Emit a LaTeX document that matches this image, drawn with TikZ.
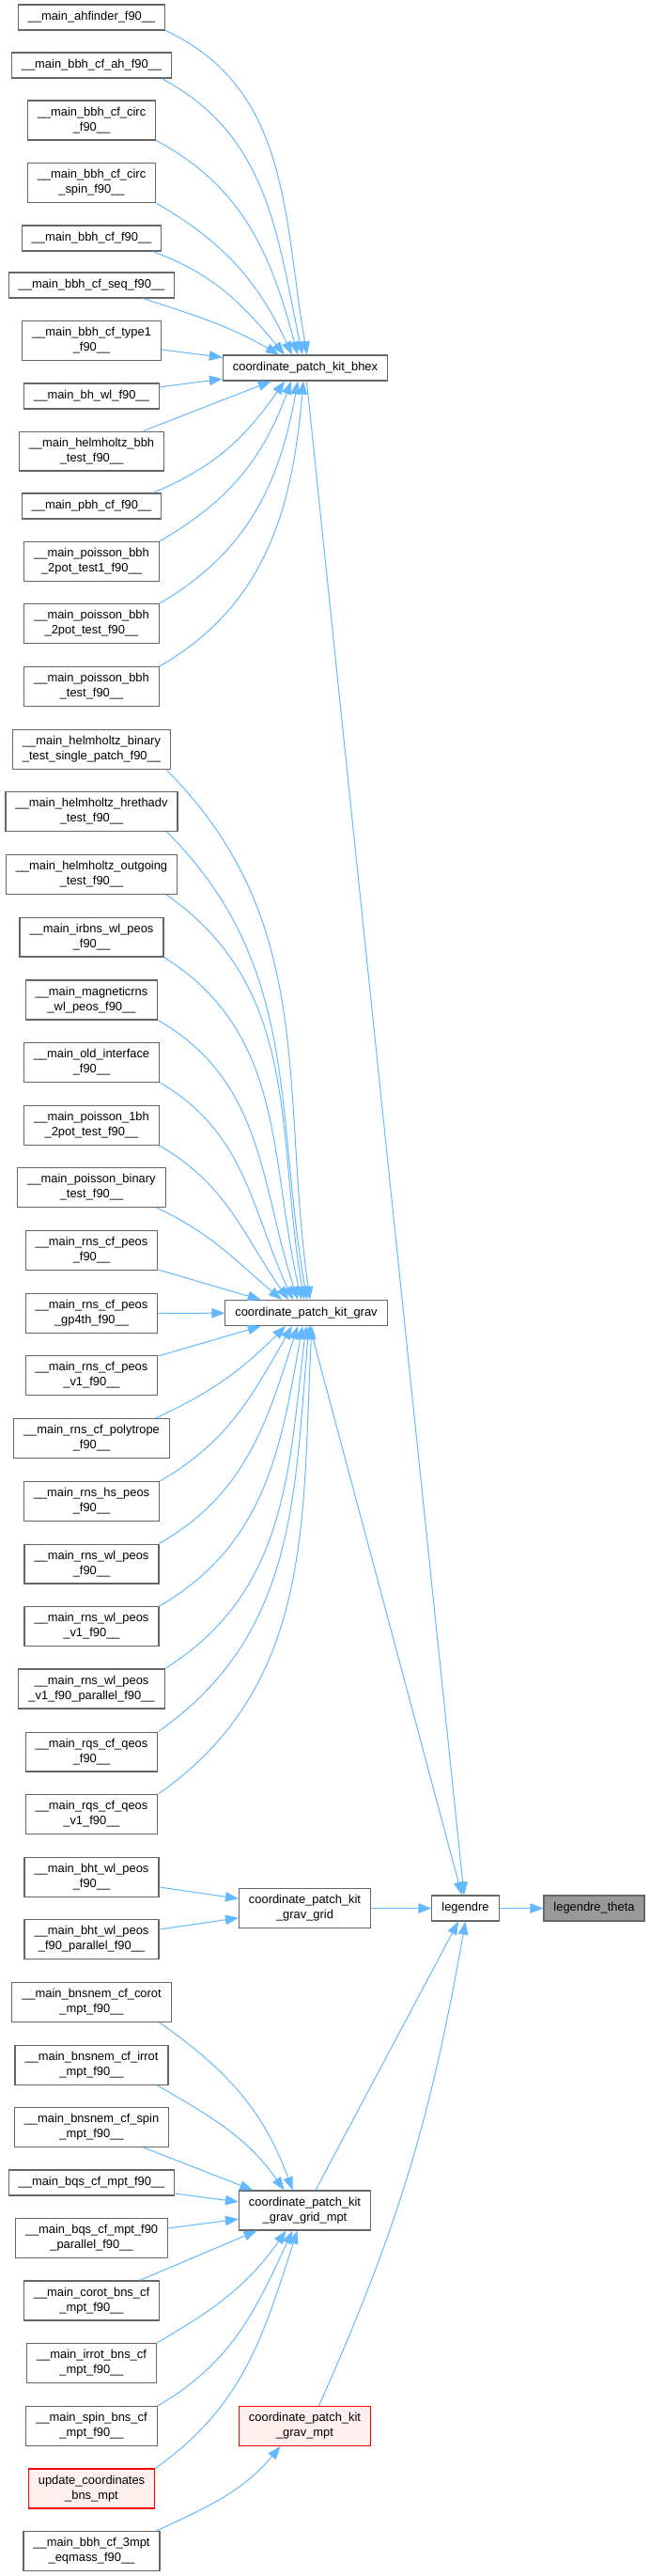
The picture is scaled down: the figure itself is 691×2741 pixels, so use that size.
\documentclass[tikz,border=0pt]{standalone}
\usepackage{fontspec}
\setmainfont{Liberation Sans}
\usetikzlibrary{arrows.meta}
\definecolor{edgeblue}{HTML}{63B8FF}
\definecolor{boxgray}{HTML}{666666}
\definecolor{hitgray}{HTML}{999999}
\definecolor{boxred}{HTML}{FF0000}
\definecolor{boxpink}{HTML}{FFF0F0}
\begin{document}
\begin{tikzpicture}[x=1pt, y=1pt,
	fn/.style={draw=boxgray, line width=1.1pt, fill=white, align=center,
		minimum height=27pt, inner xsep=10.5pt, inner ysep=7pt,
		font=\fontsize{12.9}{16}\selectfont},
	fnred/.style={fn, draw=boxred, fill=boxpink},
	fnhit/.style={fn, fill=hitgray},
	call/.style={draw=edgeblue, line width=1pt, -{Triangle[length=14pt,width=10.5pt]}}]
	\useasboundingbox (0,0) rectangle (691,-2741);
	% Callers, left column:
	\node[fn] (ahfinder) at (97.5,-18.5) {\_\_main\_ahfinder\_f90\_\_};
	\node[fn] (bbhcfah) at (97.5,-69.5) {\_\_main\_bbh\_cf\_ah\_f90\_\_};
	\node[fn] (circ) at (97.5,-128) {\_\_main\_bbh\_cf\_circ\\\_f90\_\_};
	\node[fn] (circspin) at (97.5,-194.5) {\_\_main\_bbh\_cf\_circ\\\_spin\_f90\_\_};
	\node[fn] (bbhcf) at (97.5,-253.5) {\_\_main\_bbh\_cf\_f90\_\_};
	\node[fn] (bbhseq) at (97.5,-303.5) {\_\_main\_bbh\_cf\_seq\_f90\_\_};
	\node[fn] (type1) at (97.5,-362.5) {\_\_main\_bbh\_cf\_type1\\\_f90\_\_};
	\node[fn] (bhwl) at (97.5,-421.5) {\_\_main\_bh\_wl\_f90\_\_};
	\node[fn] (helmbbh) at (97.5,-480) {\_\_main\_helmholtz\_bbh\\\_test\_f90\_\_};
	\node[fn] (pbhcf) at (97.5,-538.5) {\_\_main\_pbh\_cf\_f90\_\_};
	\node[fn] (pbbhone) at (97.5,-597.5) {\_\_main\_poisson\_bbh\\\_2pot\_test1\_f90\_\_};
	\node[fn] (pbbhtwo) at (97.5,-663.5) {\_\_main\_poisson\_bbh\\\_2pot\_test\_f90\_\_};
	\node[fn] (pbbh) at (97.5,-730.5) {\_\_main\_poisson\_bbh\\\_test\_f90\_\_};
	\node[fn] (helmbin) at (97.5,-797.5) {\_\_main\_helmholtz\_binary\\\_test\_single\_patch\_f90\_\_};
	\node[fn] (hrethadv) at (97.5,-863.5) {\_\_main\_helmholtz\_hrethadv\\\_test\_f90\_\_};
	\node[fn] (outgoing) at (97.5,-930.5) {\_\_main\_helmholtz\_outgoing\\\_test\_f90\_\_};
	\node[fn] (irbns) at (97.5,-997) {\_\_main\_irbns\_wl\_peos\\\_f90\_\_};
	\node[fn] (magrns) at (97.5,-1064) {\_\_main\_magneticrns\\\_wl\_peos\_f90\_\_};
	\node[fn] (oldint) at (97.5,-1130.5) {\_\_main\_old\_interface\\\_f90\_\_};
	\node[fn] (ponebh) at (97.5,-1197.5) {\_\_main\_poisson\_1bh\\\_2pot\_test\_f90\_\_};
	\node[fn] (pbinary) at (97.5,-1263.5) {\_\_main\_poisson\_binary\\\_test\_f90\_\_};
	\node[fn] (rnscf) at (97.5,-1330.5) {\_\_main\_rns\_cf\_peos\\\_f90\_\_};
	\node[fn] (rnsgp) at (97.5,-1397.5) {\_\_main\_rns\_cf\_peos\\\_gp4th\_f90\_\_};
	\node[fn] (rnsvone) at (97.5,-1463.5) {\_\_main\_rns\_cf\_peos\\\_v1\_f90\_\_};
	\node[fn] (polytrope) at (97.5,-1530.5) {\_\_main\_rns\_cf\_polytrope\\\_f90\_\_};
	\node[fn] (rnshs) at (97.5,-1597.5) {\_\_main\_rns\_hs\_peos\\\_f90\_\_};
	\node[fn] (rnswl) at (97.5,-1664) {\_\_main\_rns\_wl\_peos\\\_f90\_\_};
	\node[fn] (rnswlv) at (97.5,-1730.5) {\_\_main\_rns\_wl\_peos\\\_v1\_f90\_\_};
	\node[fn] (rnswlpar) at (97.5,-1797) {\_\_main\_rns\_wl\_peos\\\_v1\_f90\_parallel\_f90\_\_};
	\node[fn] (rqs) at (97.5,-1864) {\_\_main\_rqs\_cf\_qeos\\\_f90\_\_};
	\node[fn] (rqsv) at (97.5,-1930.5) {\_\_main\_rqs\_cf\_qeos\\\_v1\_f90\_\_};
	\node[fn] (bhtwl) at (97.5,-1997.5) {\_\_main\_bht\_wl\_peos\\\_f90\_\_};
	\node[fn] (bhtwlpar) at (97.5,-2063.5) {\_\_main\_bht\_wl\_peos\\\_f90\_parallel\_f90\_\_};
	\node[fn] (corot) at (97.5,-2130.5) {\_\_main\_bnsnem\_cf\_corot\\\_mpt\_f90\_\_};
	\node[fn] (irrot) at (97.5,-2197.5) {\_\_main\_bnsnem\_cf\_irrot\\\_mpt\_f90\_\_};
	\node[fn] (spin) at (97.5,-2263.5) {\_\_main\_bnsnem\_cf\_spin\\\_mpt\_f90\_\_};
	\node[fn] (bqs) at (97.5,-2322.5) {\_\_main\_bqs\_cf\_mpt\_f90\_\_};
	\node[fn] (bqspar) at (97.5,-2381.5) {\_\_main\_bqs\_cf\_mpt\_f90\\\_parallel\_f90\_\_};
	\node[fn] (corotbns) at (97.5,-2448) {\_\_main\_corot\_bns\_cf\\\_mpt\_f90\_\_};
	\node[fn] (irrotbns) at (97.5,-2514.5) {\_\_main\_irrot\_bns\_cf\\\_mpt\_f90\_\_};
	\node[fn] (spinbns) at (97.5,-2581.5) {\_\_main\_spin\_bns\_cf\\\_mpt\_f90\_\_};
	\node[fnred] (updbns) at (97.5,-2648) {update\_coordinates\\\_bns\_mpt};
	\node[fn] (eqmass) at (97.5,-2714.5) {\_\_main\_bbh\_cf\_3mpt\\\_eqmass\_f90\_\_};
	% Middle column and target:
	\node[fn] (bhex) at (325,-391.5) {coordinate\_patch\_kit\_bhex};
	\node[fn] (grav) at (326,-1397) {coordinate\_patch\_kit\_grav};
	\node[fn] (grid) at (324.5,-2030.5) {coordinate\_patch\_kit\\\_grav\_grid};
	\node[fn] (gridmpt) at (324.5,-2352) {coordinate\_patch\_kit\\\_grav\_grid\_mpt};
	\node[fnred] (gravmpt) at (324.5,-2581.5) {coordinate\_patch\_kit\\\_grav\_mpt};
	\node[fn] (legendre) at (495.5,-2030.5) {legendre};
	\node[fnhit] (ltheta) at (632.5,-2030.5) {legendre\_theta};
	% Calls into coordinate_patch_kit_bhex:
	\draw[call] (ahfinder.south east) to[out=-25,in=100] ([xshift=2pt]bhex.north);
	\draw[call] ([xshift=-11pt]bbhcfah.south east) to[out=-28,in=102] ([xshift=-3pt]bhex.north);
	\draw[call] (circ.south east) to[out=-28,in=105] ([xshift=-8pt]bhex.north);
	\draw[call] (circspin.south east) to[out=-30,in=115] ([xshift=-14pt]bhex.north);
	\draw[call] ([xshift=-10pt]bbhcf.south east) to[out=-20,in=130] ([xshift=-22pt]bhex.north);
	\draw[call] ([xshift=-34pt]bbhseq.south east) to[out=-18,in=150] ([xshift=-28pt]bhex.north);
	\draw[call] (type1) -- (bhex);
	\draw[call] (bhwl) -- (bhex);
	\draw[call] (helmbbh) -- (bhex);
	\draw[call] ([xshift=-10pt]pbhcf.north east) to[out=22,in=-125] ([xshift=-22pt]bhex.south);
	\draw[call] (pbbhone.north east) to[out=30,in=-110] ([xshift=-15pt]bhex.south);
	\draw[call] (pbbhtwo.north east) to[out=30,in=-100] ([xshift=-8pt]bhex.south);
	\draw[call] (pbbh.north east) to[out=30,in=-95] ([xshift=-2pt]bhex.south);
	% Calls into coordinate_patch_kit_grav:
	\draw[call] ([xshift=-5pt]helmbin.south east) to[out=-45,in=98] ([xshift=4pt]grav.north);
	\draw[call] ([xshift=-12pt]hrethadv.south east) to[out=-45,in=100] ([xshift=1pt]grav.north);
	\draw[call] ([xshift=-12pt]outgoing.south east) to[out=-35,in=100] ([xshift=-2pt]grav.north);
	\draw[call] (irbns.south east) to[out=-32,in=103] ([xshift=-5pt]grav.north);
	\draw[call] (magrns.south east) to[out=-30,in=108] ([xshift=-9pt]grav.north);
	\draw[call] (oldint.south east) to[out=-30,in=115] ([xshift=-14pt]grav.north);
	\draw[call] (ponebh.south east) to[out=-30,in=125] ([xshift=-19pt]grav.north);
	\draw[call] ([xshift=-10pt]pbinary.south east) to[out=-25,in=140] ([xshift=-26pt]grav.north);
	\draw[call] (rnscf) -- (grav);
	\draw[call] (rnsgp) -- (grav);
	\draw[call] (rnsvone) -- (grav);
	\draw[call] ([xshift=-15pt]polytrope.north east) to[out=25,in=-135] ([xshift=-22pt]grav.south);
	\draw[call] (rnshs.north east) to[out=30,in=-120] ([xshift=-15pt]grav.south);
	\draw[call] (rnswl.north east) to[out=30,in=-108] ([xshift=-9pt]grav.south);
	\draw[call] (rnswlv.north east) to[out=30,in=-100] ([xshift=-4pt]grav.south);
	\draw[call] (rnswlpar.north east) to[out=32,in=-97] (grav.south);
	\draw[call] (rqs.north east) to[out=35,in=-95] ([xshift=3pt]grav.south);
	\draw[call] (rqsv.north east) to[out=35,in=-93] ([xshift=6pt]grav.south);
	% Calls into the grid nodes:
	\draw[call] (bhtwl) -- (grid);
	\draw[call] (bhtwlpar) -- (grid);
	\draw[call] ([xshift=-13pt]corot.south east) to[out=-35,in=110] ([xshift=-13pt]gridmpt.north);
	\draw[call] ([xshift=-12pt]irrot.south east) to[out=-30,in=125] ([xshift=-22pt]gridmpt.north);
	\draw[call] (spin) -- (gridmpt);
	\draw[call] (bqs) -- (gridmpt);
	\draw[call] (bqspar) -- (gridmpt);
	\draw[call] (corotbns) -- (gridmpt);
	\draw[call] (irrotbns.north east) to[out=30,in=-125] ([xshift=-20pt]gridmpt.south);
	\draw[call] (spinbns.north east) to[out=30,in=-115] ([xshift=-13pt]gridmpt.south);
	\draw[call] (updbns.north east) to[out=35,in=-108] ([xshift=-8pt]gridmpt.south);
	\draw[call] ([xshift=-4pt]eqmass.north east) to[out=25,in=-130] ([xshift=-26pt]gravmpt.south);
	% Calls into legendre and legendre_theta:
	\draw[call] (bhex) -- (legendre);
	\draw[call] (grav) -- (legendre);
	\draw[call] (grid) -- (legendre);
	\draw[call] (gridmpt) -- (legendre);
	\draw[call] ([xshift=15pt]gravmpt.north) to[out=66,in=-100] (legendre.south);
	\draw[call] (legendre) -- (ltheta);
\end{tikzpicture}
\end{document}
